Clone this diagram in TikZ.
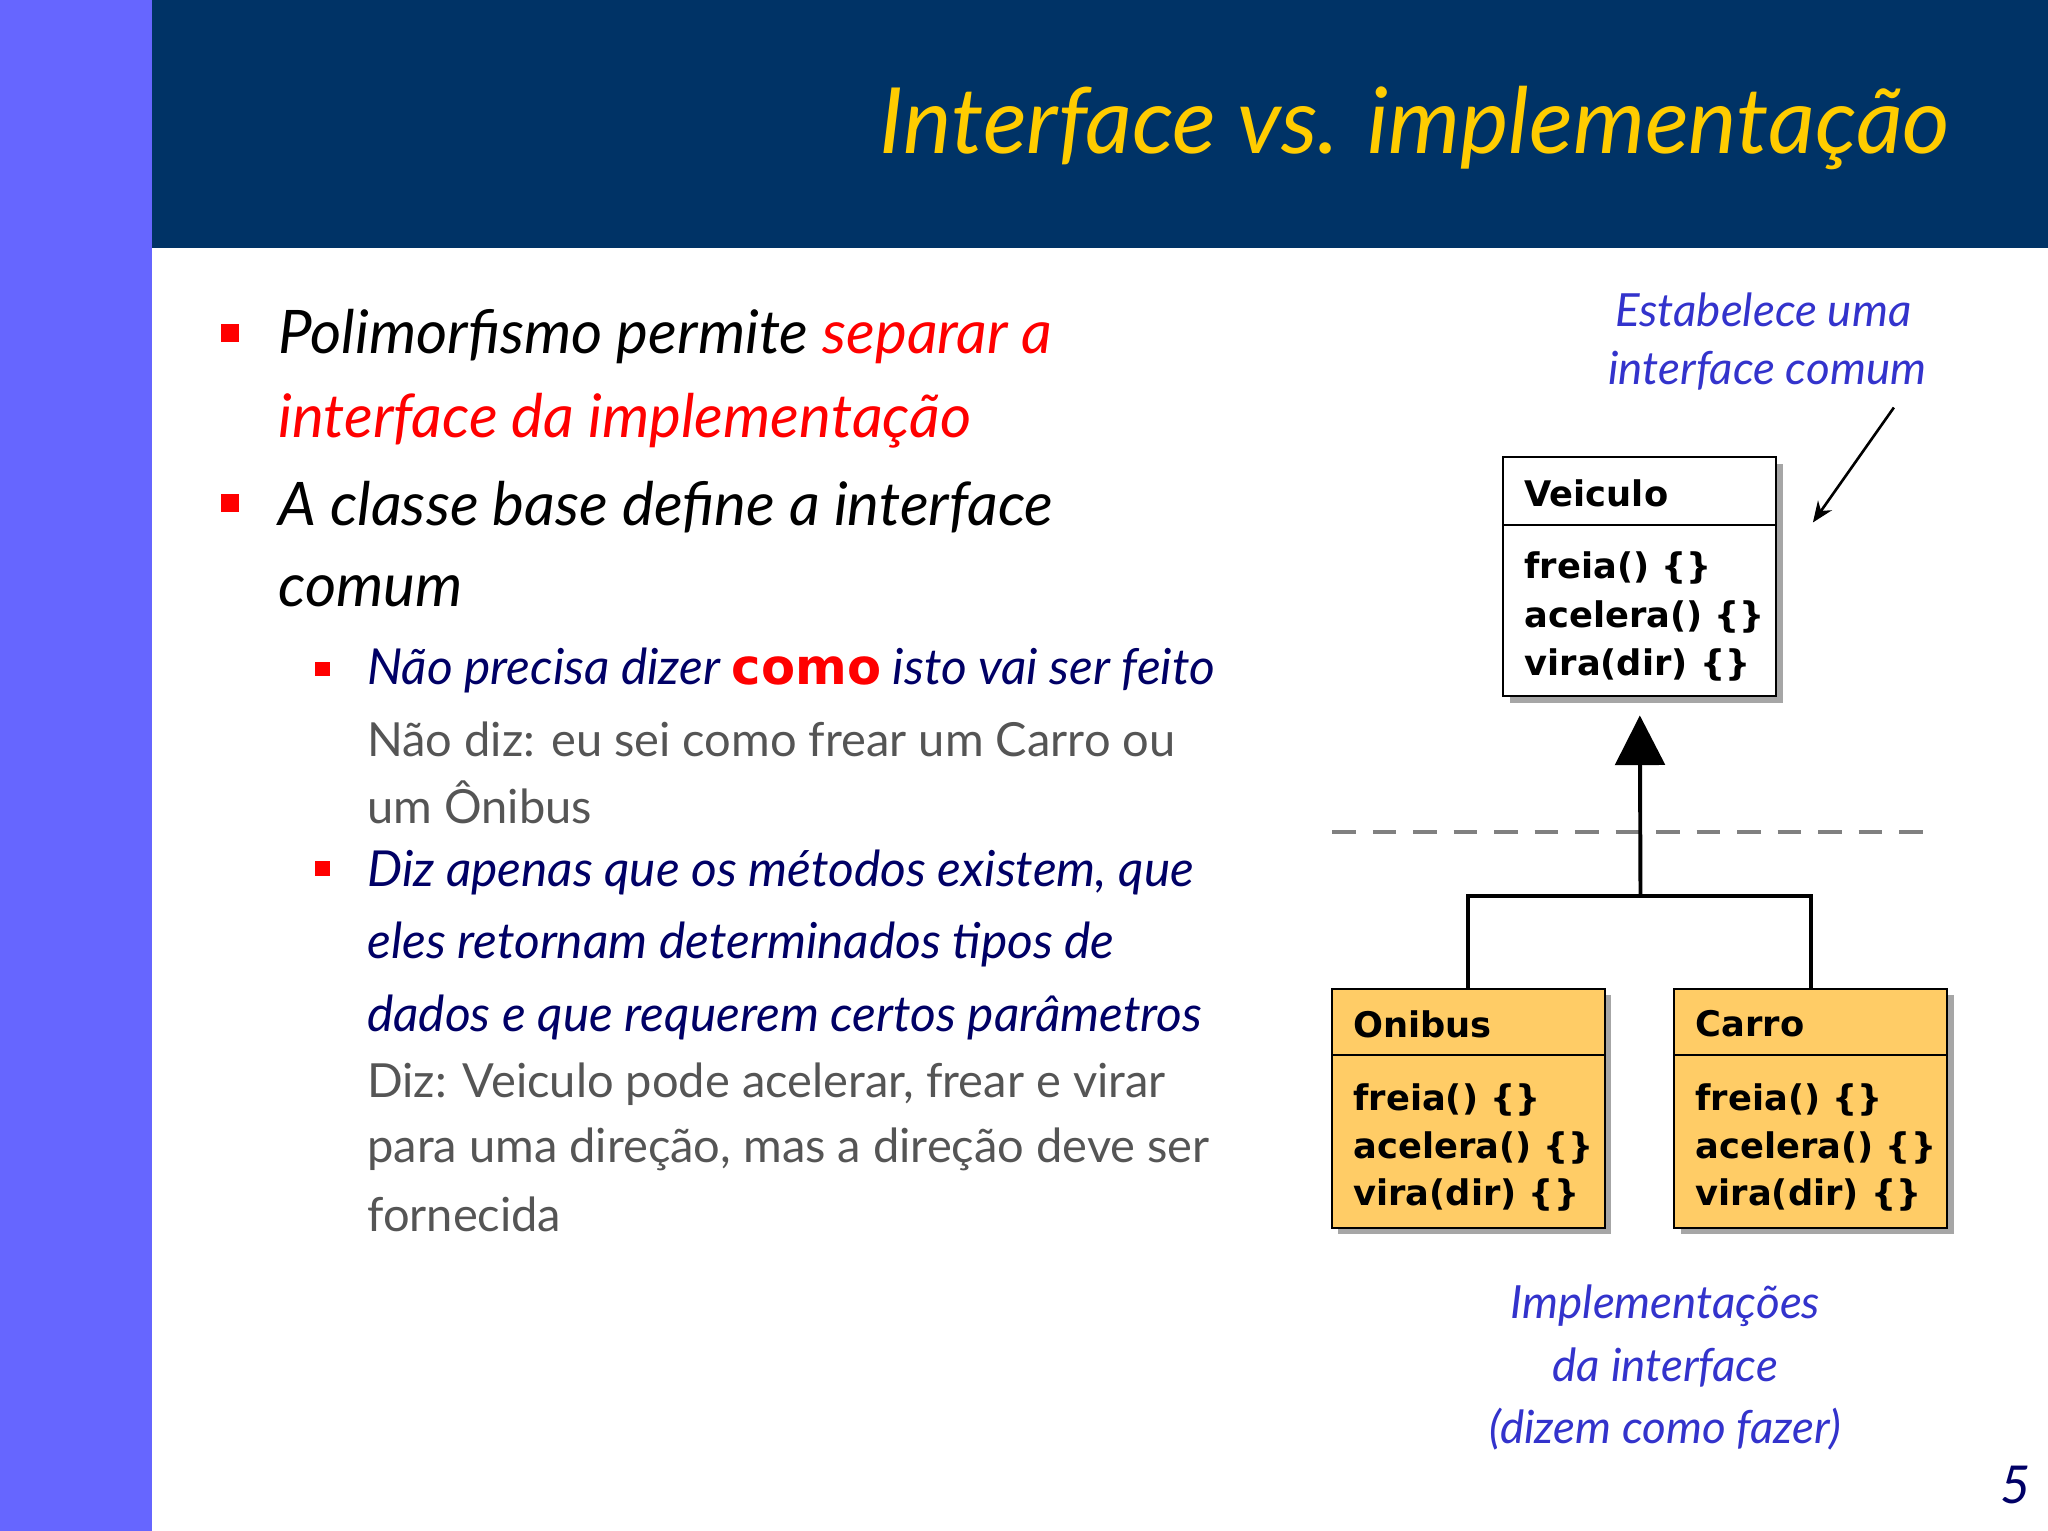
\documentclass[tikz,border=0pt]{standalone}
\usepackage{fontspec}
\setmainfont{Lato}
\newfontfamily\boxfont{DejaVu Sans}
\usetikzlibrary{arrows.meta,shadows}
\definecolor{navy}{HTML}{003366}
\definecolor{lilac}{HTML}{6666FF}
\definecolor{gold}{HTML}{FFCC00}
\definecolor{dblue}{HTML}{000066}
\definecolor{mblue}{HTML}{3333CC}
\definecolor{gtxt}{HTML}{555555}
\definecolor{boxfill}{HTML}{FFCC66}
\definecolor{hred}{HTML}{FF0000}
\tikzset{
 bl/.style={anchor=west,inner sep=0pt,font=\fontsize{46}{50}\selectfont\itshape},
 sb/.style={anchor=west,inner sep=0pt,font=\fontsize{38}{42}\selectfont\itshape,text=dblue},
 gt/.style={anchor=west,inner sep=0pt,font=\fontsize{36}{40}\selectfont,text=gtxt},
 note/.style={inner sep=0pt,font=\fontsize{35}{40}\selectfont\itshape,text=mblue},
 cls/.style={draw=black,line width=1.5pt,minimum width=209pt,minimum height=183pt,inner sep=0pt,drop shadow={shadow xshift=5pt,shadow yshift=-5pt,fill=gray!70,opacity=1}},
 bt/.style={anchor=west,inner sep=0pt,font=\boxfont\bfseries\fontsize{27}{30}\selectfont},
 sq/.style={fill=hred,minimum size=14pt,inner sep=0pt},
 ssq/.style={fill=hred,minimum size=11pt,inner sep=0pt},
}
\begin{document}
\begin{tikzpicture}[x=1pt,y=-1pt]
\useasboundingbox (0,0) rectangle (1568,1172);
\fill[white] (0,0) rectangle (1568,1172);
\fill[lilac] (0,0) rectangle (116,1172);
\fill[navy] (116,0) rectangle (1568,190);
\node[anchor=east,inner sep=0pt,text=gold,font=\fontsize{70}{80}\selectfont\itshape] (title) at (1493,98) {Interface vs. implementação};
% bullets
\node[sq] (b1) at (176,255) {};
\node[bl] (t1) at (213,258) {Polimorfismo permite \textcolor{hred}{separar a}};
\node[bl,text=hred] (t2) at (213,322) {interface da implementação};
\node[sq] (b2) at (176,385) {};
\node[bl] (t3) at (213,388) {A classe base define a interface};
\node[bl] (t4) at (213,453) {comum};
\node[ssq] (s1) at (247,512) {};
\node[sb] (u1) at (281,513) {Não precisa dizer \textcolor{hred}{\upshape\bfseries\boxfont como} isto vai ser feito};
\node[gt] (g1) at (281,566) {Não diz: eu sei como frear um Carro ou};
\node[gt] (g2) at (281,614) {um Ônibus};
\node[ssq] (s2) at (247,665) {};
\node[sb] (u2) at (281,668) {Diz apenas que os métodos existem, que};
\node[sb] (u3) at (281,723) {eles retornam determinados tipos de};
\node[sb] (u4) at (281,779) {dados e que requerem certos parâmetros};
\node[gt] (g3) at (281,830) {Diz: Veiculo pode acelerar, frear e virar};
\node[gt] (g4) at (281,880) {para uma direção, mas a direção deve ser};
\node[gt] (g5) at (281,930) {fornecida};
% notes
\node[note] (n1) at (1350,237) {Estabelece uma};
\node[note] (n2) at (1353,284) {interface comum};
\coordinate (nt) at (1450,312);
\coordinate (nh) at (1388,400);
\draw[line width=2pt,-{Stealth[length=16pt,width=13pt]}] (nt) -- (nh);
% dashed line
\coordinate (d1) at (1020,637); \coordinate (d2) at (1478,637);
\draw[gray,line width=3pt,dash pattern=on 18pt off 13pt] (d1) -- (d2);
% classes
\node[cls,fill=white] (veic) at (1255.5,441.5) {};
\draw[line width=1.5pt] (1151,402) -- (1360,402);
\node[bt] at (1167,378) {Veiculo};
\node[bt] at (1167,435) {freia() \{\}};
\node[bt] at (1167,472) {acelera() \{\}};
\node[bt] at (1167,509) {vira(dir) \{\}};
\node[cls,fill=boxfill] (onib) at (1124,848.5) {};
\draw[line width=1.5pt] (1020,808) -- (1228,808);
\node[bt] at (1036,784) {Onibus};
\node[bt] at (1036,842) {freia() \{\}};
\node[bt] at (1036,879) {acelera() \{\}};
\node[bt] at (1036,915) {vira(dir) \{\}};
\node[cls,fill=boxfill] (carro) at (1386.5,848.5) {};
\draw[line width=1.5pt] (1282,808) -- (1491,808);
\node[bt] at (1298,784) {Carro};
\node[bt] at (1298,842) {freia() \{\}};
\node[bt] at (1298,879) {acelera() \{\}};
\node[bt] at (1298,915) {vira(dir) \{\}};
% inheritance
\coordinate (j) at (1256,686);
\draw[line width=3pt,-{Triangle[length=38pt,width=38pt]}] (j) -- ([yshift=-14pt]veic.south);
\draw[line width=3pt] (onib.north) |- (j) -| (carro.north);
% bottom note
\node[note] (n3) at (1275,1000) {Implementações};
\node[note] (n4) at (1275,1047) {da interface};
\node[note] (n5) at (1275,1094) {(dizem como fazer)};
\node[inner sep=0pt,text=dblue,font=\fontsize{40}{44}\selectfont\itshape] (pg) at (1543,1137) {5};
\end{tikzpicture}
\end{document}
